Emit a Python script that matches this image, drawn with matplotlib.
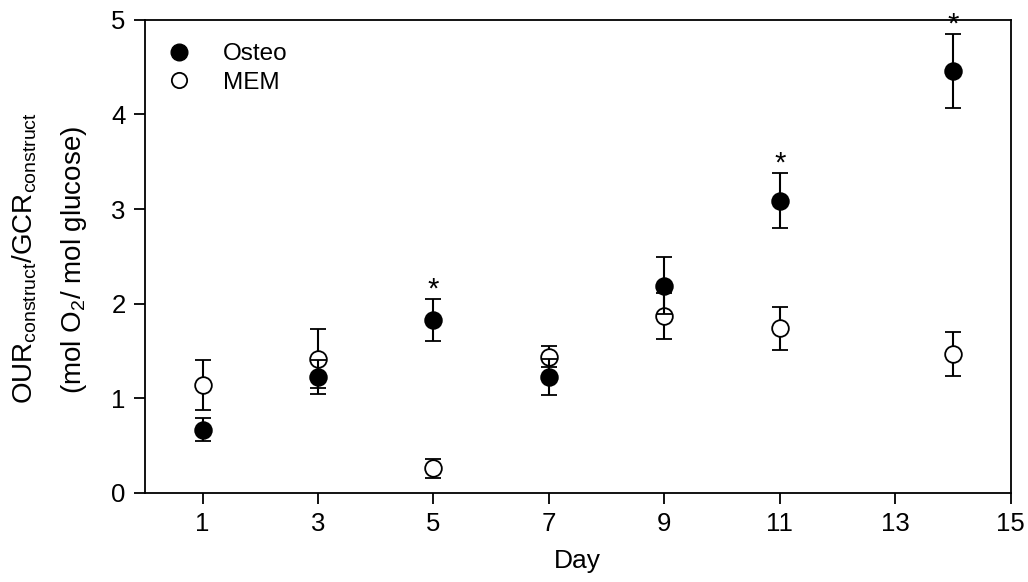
import numpy as np
import matplotlib.pyplot as plt
from matplotlib.lines import Line2D

plt.rcParams['font.family'] = ['Liberation Sans', 'DejaVu Sans']
plt.rcParams['mathtext.fontset'] = 'custom'
plt.rcParams['mathtext.rm'] = 'Liberation Sans'
plt.rcParams['mathtext.it'] = 'Liberation Sans'

days = [1, 3, 5, 7, 9, 11, 14]
osteo = [0.67, 1.23, 1.83, 1.23, 2.19, 3.09, 4.46]
osteo_err = [0.12, 0.18, 0.22, 0.19, 0.30, 0.29, 0.39]
mem = [1.14, 1.42, 0.26, 1.44, 1.87, 1.74, 1.47]
mem_err = [0.26, 0.31, 0.10, 0.11, 0.24, 0.23, 0.23]
signif = [5, 11, 14]

fig = plt.figure(figsize=(10.28, 5.82), dpi=100)
ax = fig.add_axes([0.141, 0.153, 0.842, 0.813])

ax.errorbar(days, mem, yerr=mem_err, fmt='o', mfc='white', mec='black', ecolor='black',
            ms=12, mew=1.3, elinewidth=1.5, capsize=6, capthick=1.5, zorder=3)
ax.errorbar(days, osteo, yerr=osteo_err, fmt='o', mfc='black', mec='black', ecolor='black',
            ms=12, mew=1.3, elinewidth=1.5, capsize=6, capthick=1.5, zorder=4)

for d in signif:
    i = days.index(d)
    ax.annotate('*', (d, osteo[i] + osteo_err[i]), xytext=(0, -3), textcoords='offset points',
                ha='center', va='bottom', fontsize=21)

ax.set_xlim(0, 15)
ax.set_ylim(0, 5)
ax.set_xticks([1, 3, 5, 7, 9, 11, 13, 15])
ax.set_yticks([0, 1, 2, 3, 4, 5])
ax.tick_params(direction='out', length=8, width=1.3, labelsize=18.5, pad=6)
for s in ax.spines.values():
    s.set_linewidth(1.3)

ax.set_xlabel('Day', fontsize=19, labelpad=9)
fig.text(25 / 1028, 1 - 258 / 582, 'OUR$_{\\mathregular{construct}}$/GCR$_{\\mathregular{construct}}$',
         rotation=90, ha='center', va='center', fontsize=20)
fig.text(74 / 1028, 1 - 260 / 582, '(mol O$_{\\mathregular{2}}$/ mol glucose)',
         rotation=90, ha='center', va='center', fontsize=20)

handles = [Line2D([], [], ls='none', marker='o', ms=12, mfc='black', mec='black'),
           Line2D([], [], ls='none', marker='o', ms=11, mfc='white', mec='black', mew=1.3)]
ax.legend(handles, ['Osteo', 'MEM'], loc='upper left', bbox_to_anchor=(0.018, 0.95),
          frameon=False, fontsize=17.5, handletextpad=1.05, labelspacing=0.25,
          handlelength=1.5, borderaxespad=0, borderpad=0)

fig.savefig('out.png', dpi=100)
